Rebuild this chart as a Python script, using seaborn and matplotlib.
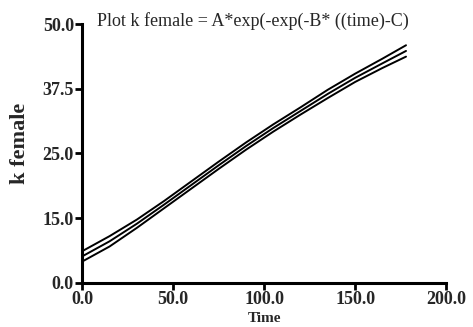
import numpy as np
import pandas as pd
import seaborn as sns
import matplotlib
matplotlib.use('Agg')
import matplotlib.pyplot as plt

# values
time = [0, 15, 30, 45, 60, 75, 90, 105, 120, 135, 150, 165, 178]
fit = [5.1, 8.0, 11.4, 15.1, 18.9, 22.7, 26.4, 29.9, 33.2, 36.5, 39.6, 42.4, 44.8]
upper = [6.1, 9.0, 12.2, 15.8, 19.6, 23.4, 27.1, 30.6, 33.9, 37.3, 40.4, 43.3, 45.9]
lower = [4.1, 7.0, 10.6, 14.4, 18.2, 22.0, 25.7, 29.2, 32.5, 35.7, 38.8, 41.5, 43.7]

y_ticks = [0, 12.5, 25, 37.5, 50]
y_ticklabels = ['0.0', '15.0', '25.0', '37.5', '50.0']
x_ticks = [0, 50, 100, 150, 200]
x_ticklabels = ['0.0', '50.0', '100.0', '150.0', '200.0']

df = pd.DataFrame({'time': time * 3,
                   'k': upper + fit + lower,
                   'curve': ['upper'] * len(time) + ['fit'] * len(time) + ['lower'] * len(time)})

sns.set_style('ticks')
plt.rcParams['font.family'] = ['Liberation Serif', 'DejaVu Serif']

fig = plt.figure(figsize=(4.73, 3.27), dpi=100)
ax = fig.add_axes([0.174, 0.1355, 0.769, 0.791])

sns.lineplot(data=df, x='time', y='k', hue='curve', ax=ax,
             palette=['black', 'black', 'black'], linewidth=1.4, legend=False)

ax.set_xlim(0, 200)
ax.set_ylim(0, 50)
ax.set_xticks(x_ticks)
ax.set_xticklabels(x_ticklabels, fontsize=13, fontweight='bold')
ax.set_yticks(y_ticks)
ax.set_yticklabels(y_ticklabels, fontsize=13, fontweight='bold')
ax.tick_params(direction='out', length=5, width=2, color='black', pad=1)

for side in ['top', 'right']:
    ax.spines[side].set_visible(False)
for side in ['left', 'bottom']:
    ax.spines[side].set_linewidth(2.2)
    ax.spines[side].set_color('black')

ax.set_xlabel('Time', fontsize=11, fontweight='bold')
ax.xaxis.set_label_coords(0.5, -0.113)
ax.set_ylabel('k female', fontsize=16, fontweight='bold')
ax.yaxis.set_label_coords(-0.145, 0.54)

fig.text(0.205, 0.935, 'Plot k female = A*exp(-exp(-B* ((time)-C)',
         fontsize=13, ha='left', va='center')

fig.savefig('out.png', dpi=100)
